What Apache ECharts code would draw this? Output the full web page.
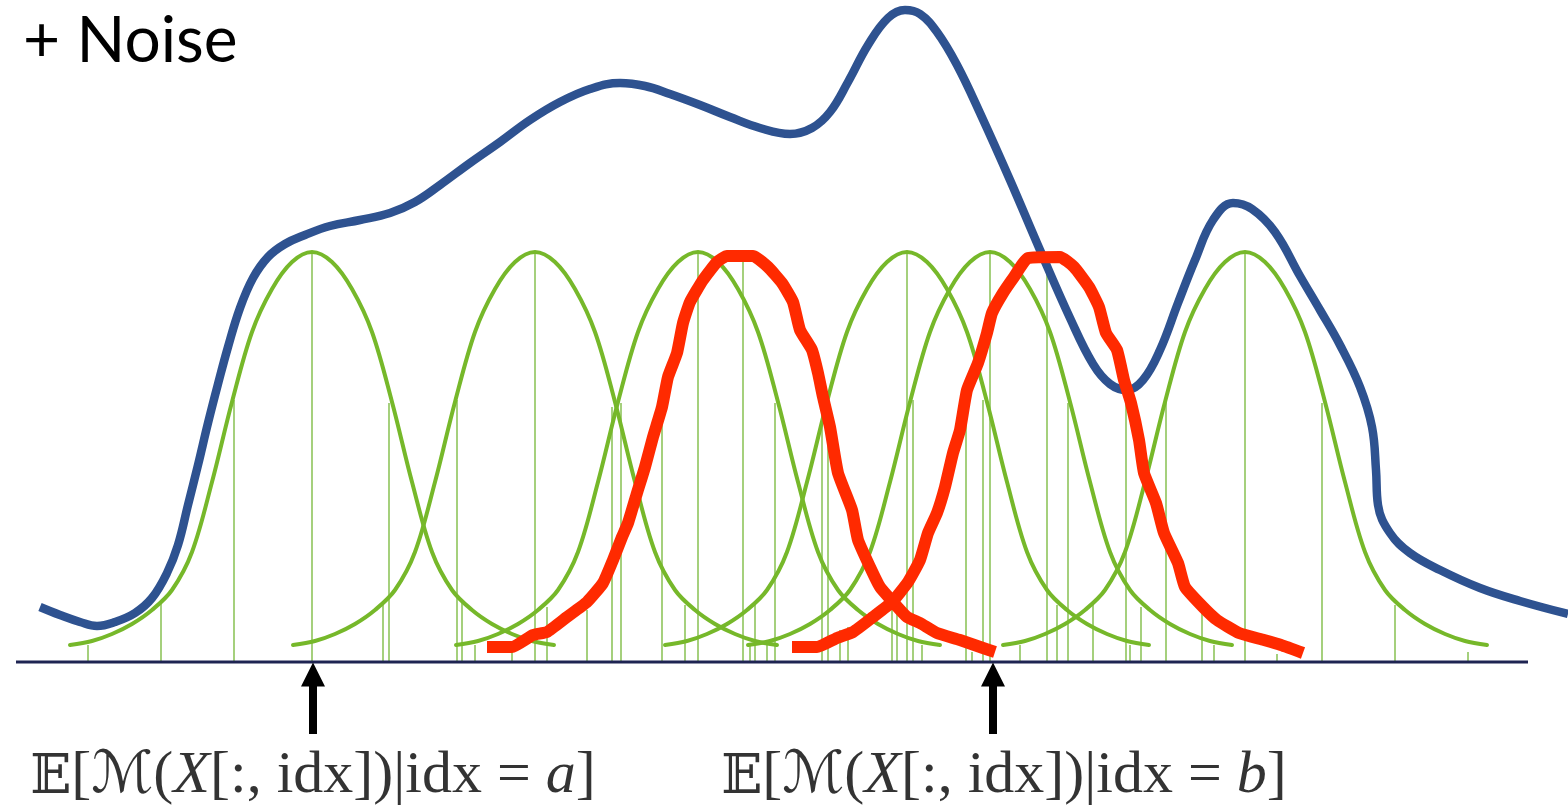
<!DOCTYPE html>
<html>
<head>
<meta charset="utf-8">
<title>+ Noise</title>
<script src="https://cdn.jsdelivr.net/npm/echarts@6/dist/echarts.min.js"></script>
<style>
  html, body { margin: 0; padding: 0; background: #ffffff; }
  #chart { width: 1568px; height: 805px; }
</style>
</head>
<body>
<div id="chart"></div>
<script>
// Position units along the index axis; heights measured above the baseline.

// Shape of one green kernel: [offset from centre, height]
const kernelShape = [
  [-24.2, 1.7], [-22, 2.1], [-20, 2.8], [-18, 3.8], [-16, 5.2], [-14, 7.2],
  [-12, 11.0], [-10, 18.0], [-8, 26.0], [-6, 33.0], [-4, 37.3], [-2, 40.0],
  [0, 41.0],
  [2, 40.0], [4, 37.3], [6, 33.0], [8, 26.0], [10, 18.0], [12, 11.0],
  [14, 7.2], [16, 5.2], [18, 3.8], [20, 2.8], [22, 2.1], [24.2, 1.7]
];

// Kernel centres
const kernelCentres = [31.2, 53.5, 69.8, 90.7, 99.0, 124.5];

// Sample positions and the height each sample line reaches
const sampleX = [
  8.8, 16.1, 23.4, 31.2, 38.3, 38.9, 45.7, 46.2, 47.5, 51.2, 53.5, 54.7,
  58.7, 61.2, 62.1, 66.2, 68.5, 69.8, 74.3, 75.0, 75.5, 76.7, 77.5, 82.2,
  82.8, 84.0, 84.8, 89.2, 89.7, 90.7, 91.3, 92.2, 96.6, 97.2, 98.3, 99.0,
  102.0, 104.7, 105.7, 106.8, 109.3, 112.6, 113.0, 114.1, 116.6, 120.2,
  121.4, 124.5, 127.7, 132.2, 139.5, 146.8
];
const sampleTop = [
  1.7, 5.9, 26.2, 41.0, 6.0, 25.9, 26.2, 6.0, 1.7, 1.7, 41.0, 5.5,
  5.2, 25.5, 25.9, 24.0, 5.7, 41.0, 40.8, 1.7, 5.7, 1.7, 25.9, 25.5,
  26.0, 3.2, 3.5, 6.4, 6.2, 41.0, 26.2, 1.7, 26.5, 1.0, 26.2, 41.0,
  1.7, 40.8, 5.7, 25.9, 5.9, 28.0, 1.7, 5.5, 26.2, 4.9,
  1.7, 41.0, 0.8, 25.9, 5.7, 1.0
];

// Overall mixture density
const mixtureX = [
  4.0, 6.0, 8.0, 9.7, 11.5, 13.5, 15.2, 16.7, 17.8, 18.8, 19.8, 20.8,
  21.8, 22.8, 24.0, 25.3, 26.8, 28.5, 30.5, 33.0, 36.0, 39.0, 41.5, 44.0,
  47.0, 50.0, 53.0, 56.0, 59.0, 62.0, 64.5, 67.0, 70.0, 73.0, 76.0, 79.0,
  81.2, 83.0, 84.8, 86.8, 88.8, 90.5, 92.0, 93.7, 95.7, 98.0, 101.0,
  104.0, 107.0, 109.3, 111.0, 112.7, 114.3, 116.0, 117.8, 119.5, 121.3,
  123.3, 125.2, 127.5, 130.0, 132.0, 134.0, 136.0, 137.2, 137.6, 137.8,
  139.0, 141.0, 144.0, 148.0, 152.0, 156.8
];
const mixtureY = [
  5.5, 4.7, 4.0, 3.6, 4.0, 4.9, 6.4, 8.9, 11.7, 15.7, 19.7, 23.9,
  27.8, 31.5, 35.4, 38.4, 40.5, 41.8, 42.7, 43.6, 44.2, 44.9, 46.0, 47.7,
  49.9, 52.0, 54.2, 56.0, 57.3, 57.9, 57.6, 56.8, 55.7, 54.5, 53.4, 52.8,
  53.4, 55.0, 58.0, 61.7, 64.4, 65.2, 64.8, 63.0, 59.7, 54.9, 48.2,
  41.2, 34.4, 29.8, 27.8, 27.2, 28.2, 31.2, 35.9, 40.2, 44.2,
  45.9, 45.3, 43.0, 38.6, 35.2, 31.7, 27.5, 23.5, 19.2, 15.7,
  12.9, 10.9, 9.2, 7.4, 6.1, 4.8
];

// Noisy responses around idx = a and idx = b
const noiseAX = [
  48.7, 51.2, 53.3, 54.7, 56.7, 58.7, 60.3, 61.3, 62.2, 62.8, 63.7, 64.5,
  65.3, 66.2, 66.8, 67.7, 68.3, 69.0, 70.3, 71.7, 72.7, 75.3, 76.8, 78.2,
  79.3, 80.0, 81.2, 81.8, 82.3, 83.0, 83.8, 85.2, 85.8, 87.0, 88.0, 89.3,
  90.7, 92.0, 93.7, 96.0, 98.3, 99.5
];
const noiseAY = [
  1.5, 1.5, 2.7, 3.0, 4.5, 6.0, 7.9, 10.2, 12.5, 13.9, 16.9, 19.5,
  22.5, 25.5, 28.5, 30.9, 33.9, 36.0, 38.2, 40.0, 40.6, 40.6, 39.5, 37.9,
  36.0, 33.2, 31.2, 28.9, 26.5, 23.5, 18.9, 15.2, 12.2, 9.5, 7.5, 6.0,
  4.5, 3.9, 2.9, 2.2, 1.4, 1.0
];
const noiseBX = [
  79.2, 81.7, 83.7, 85.3, 87.3, 89.2, 90.8, 92.0, 92.8, 93.7, 94.5, 95.3,
  96.0, 96.7, 97.8, 98.7, 99.2, 100.3, 101.4, 102.8, 106.0, 107.4, 108.9,
  109.9, 110.6, 111.7, 112.4, 113.1, 113.9, 114.4, 115.6, 116.4, 117.8,
  118.5, 120.3, 121.7, 123.9, 126.4, 128.1, 130.3
];
const noiseBY = [
  1.5, 1.5, 2.4, 3.0, 4.5, 6.0, 8.0, 10.2, 12.9, 14.9, 17.5, 20.9,
  23.2, 27.2, 29.9, 32.9, 34.9, 36.9, 38.5, 40.4, 40.5, 39.5, 37.5,
  35.5, 32.9, 31.2, 28.2, 25.9, 22.2, 18.9, 15.9, 12.9, 9.9,
  7.5, 5.5, 4.2, 2.9, 2.2, 1.7, 0.9
];

// Baseline extent
const baseSpan = [1.6, 152.8];

// Arrow markers under the axis and their captions
const markerX = [31.3, 99.3];
const markerTail = -7.2;
const markerHead = -1.25;
const captionLevel = -11.1;
const captionVar = ['a', 'b'];
const captionShift = [0, 11];

const zip = (xs, ys) => xs.map((x, i) => [x, ys[i]]);

const chart = echarts.init(document.getElementById('chart'), null, { renderer: 'canvas' });

const kernelSeries = kernelCentres.map((c, i) => ({
  type: 'line',
  name: 'kernel' + i,
  data: kernelShape.map(([dx, h]) => [c + dx, h]),
  smooth: 0.35,
  showSymbol: false,
  clip: false,
  z: 3,
  lineStyle: { color: '#76B82A', width: 4, cap: 'round' }
}));

const arrowSeries = markerX.map((x, i) => ({
  type: 'line',
  name: 'marker' + i,
  clip: false,
  z: 6,
  lineStyle: { color: '#000000', width: 8, cap: 'butt' },
  data: [
    { value: [x, markerTail], symbol: 'none' },
    { value: [x, markerHead], symbol: 'triangle', symbolSize: [24, 24], itemStyle: { color: '#000' } }
  ]
}));

const captionFont = 'Liberation Serif, DejaVu Serif, DejaVu Sans, serif';
const captionText = v =>
  '{bb|𝔼}{r|[}{cal|ℳ}{r|(}{it|X}{r|[:, idx])|idx = }{it|' + v + '}{r|]}';

chart.setOption({
  animation: false,
  backgroundColor: '#ffffff',
  title: {
    text: '+ Noise',
    left: 18,
    top: 4,
    textStyle: { fontFamily: 'Lato, Open Sans, sans-serif', fontSize: 64, fontWeight: 'normal', color: '#000000' }
  },
  grid: { left: 16, right: 0, top: 0, bottom: 0 },
  xAxis: {
    type: 'value',
    min: 1.6,
    max: 156.8,
    show: false,
    splitLine: { show: false }
  },
  yAxis: {
    type: 'value',
    min: -14.3,
    max: 66.2,
    show: false,
    splitLine: { show: false }
  },
  series: [
    {
      type: 'custom',
      name: 'samples',
      z: 2,
      clip: false,
      data: zip(sampleX, sampleTop),
      renderItem: (params, api) => {
        const x = api.value(0);
        const h = api.value(1);
        const p0 = api.coord([x, 0]);
        const p1 = api.coord([x, h]);
        return {
          type: 'line',
          shape: { x1: p0[0], y1: p0[1], x2: p1[0], y2: p1[1] },
          style: { stroke: 'rgba(122,186,62,0.85)', lineWidth: 1.6 }
        };
      }
    },
    {
      type: 'line',
      name: 'baseline',
      data: baseSpan.map(x => [x, 0]),
      showSymbol: false,
      clip: false,
      z: 3,
      lineStyle: { color: '#1E2452', width: 3, cap: 'butt' }
    },
    ...kernelSeries,
    {
      type: 'line',
      name: 'mixture',
      data: zip(mixtureX, mixtureY),
      smooth: 0.4,
      showSymbol: false,
      clip: false,
      z: 4,
      lineStyle: { color: '#2E5290', width: 8.5, cap: 'butt', join: 'round' }
    },
    {
      type: 'line',
      name: 'noiseA',
      data: zip(noiseAX, noiseAY),
      smooth: 0.15,
      showSymbol: false,
      clip: false,
      z: 5,
      lineStyle: { color: '#FF2A00', width: 12, cap: 'butt', join: 'round' }
    },
    {
      type: 'line',
      name: 'noiseB',
      data: zip(noiseBX, noiseBY),
      smooth: 0.15,
      showSymbol: false,
      clip: false,
      z: 5,
      lineStyle: { color: '#FF2A00', width: 12, cap: 'butt', join: 'round' }
    },
    ...arrowSeries,
    {
      type: 'scatter',
      name: 'captions',
      z: 7,
      symbolSize: 1,
      itemStyle: { color: 'rgba(0,0,0,0)' },
      data: markerX.map((x, i) => ({
        value: [x, captionLevel],
        label: {
          show: true,
          position: 'inside',
          offset: [captionShift[i], 0],
          formatter: captionText(captionVar[i])
        }
      })),
      label: {
        color: '#000',
        rich: {
          bb: { fontFamily: 'DejaVu Serif, DejaVu Sans, serif', fontSize: 54, color: '#000', verticalAlign: 'bottom', lineHeight: 66 },
          cal: { fontFamily: 'DejaVu Serif, DejaVu Sans, serif', fontSize: 58, fontStyle: 'italic', color: '#000', verticalAlign: 'bottom', lineHeight: 66 },
          r: { fontFamily: captionFont, fontSize: 60, color: '#000', verticalAlign: 'bottom', lineHeight: 66 },
          it: { fontFamily: captionFont, fontSize: 60, fontStyle: 'italic', color: '#000', verticalAlign: 'bottom', lineHeight: 66 }
        }
      }
    }
  ]
});
</script>
</body>
</html>
